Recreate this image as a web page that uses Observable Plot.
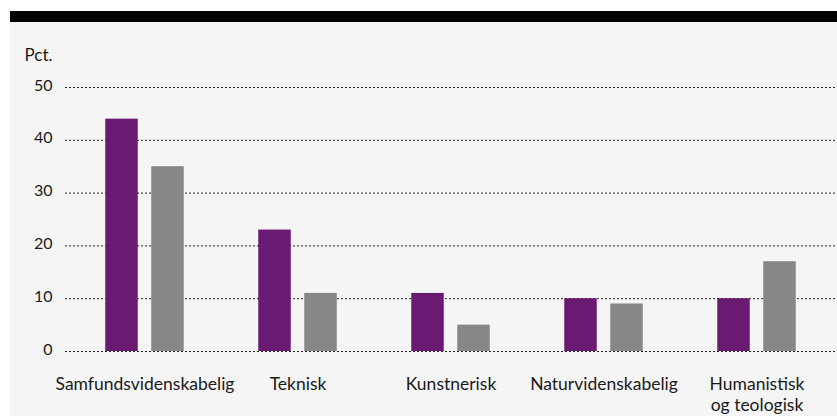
<!DOCTYPE html>
<html>
<head>
<meta charset="utf-8">
<script src="https://cdn.jsdelivr.net/npm/d3@7"></script>
<script src="https://cdn.jsdelivr.net/npm/@observablehq/plot@0.6"></script>
<style>
  html, body { margin: 0; padding: 0; background: #ffffff; }
  #wrap { position: absolute; left: 10px; top: 11px; width: 827px; }
  #topbar { height: 11px; background: #000000; }
  #chart svg { display: block; background: #f5f5f5; }
</style>
</head>
<body>
<div id="wrap">
  <div id="topbar"></div>
  <div id="chart"></div>
</div>
<script>
const categories = ["Samfundsvidenskabelig", "Teknisk", "Kunstnerisk", "Naturvidenskabelig", "Humanistisk\nog teologisk"];
const purpleValues = [44, 23, 11, 10, 10];
const grayValues = [35, 11, 5, 9, 17];
const yTicks = [0, 10, 20, 30, 40, 50];
const yLabel = "Pct.";

const purpleData = categories.map((c, i) => ({category: c, value: purpleValues[i]}));
const grayData = categories.map((c, i) => ({category: c, value: grayValues[i]}));

const font = "Lato, 'DejaVu Sans', sans-serif";

const chart = Plot.plot({
  width: 827,
  height: 394,
  marginTop: 65,
  marginBottom: 65,
  marginLeft: 55,
  marginRight: 0,
  style: {fontFamily: font, background: "#f5f5f5", color: "#1a1a1a"},
  x: {domain: categories, range: [55.75, 824.25], padding: 0},
  y: {domain: [0, 50]},
  marks: [
    Plot.ruleY(yTicks, {stroke: "#222", strokeWidth: 1, strokeDasharray: "2,2"}),
    Plot.barY(purpleData, {x: "category", y: "value", fill: "#6b1a72", insetLeft: 37.25, insetRight: 83.25}),
    Plot.barY(grayData, {x: "category", y: "value", fill: "#878787", insetLeft: 83.25, insetRight: 37.25}),
    Plot.axisY({ticks: yTicks, tickSize: 0, tickPadding: 13, fontSize: 16, dy: -2, label: null}),
    Plot.axisX({tickSize: 0, tickPadding: 24, fontSize: 17.5, lineHeight: 1.17, lineAnchor: "top", label: null}),
    Plot.text([yLabel], {frameAnchor: "top-left", text: d => d, textAnchor: "start", lineAnchor: "middle", dx: -41, dy: -32, fontSize: 17})
  ]
});
document.getElementById("chart").appendChild(chart);
</script>
</body>
</html>
